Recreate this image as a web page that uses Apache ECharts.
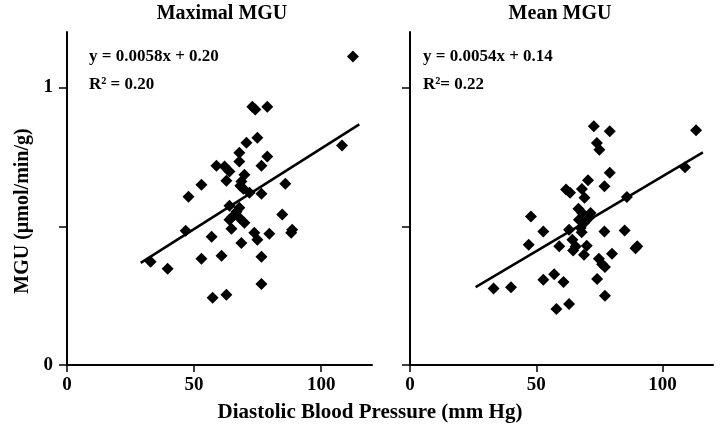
<!DOCTYPE html>
<html><head><meta charset="utf-8">
<script src="https://cdn.jsdelivr.net/npm/echarts@6/dist/echarts.min.js"></script>
<style>html,body{margin:0;padding:0;background:#fff}#c{width:721px;height:433px}</style>
</head><body><div id="c"></div>
<script>
const panelTitles = ['Maximal MGU', 'Mean MGU'];
const xAxisTitle = 'Diastolic Blood Pressure (mm Hg)';
const yAxisTitle = 'MGU (µmol/min/g)';
const xTicks = [0, 50, 100];
const yTicks = [0, 0.5, 1];
const yLabelTicks = [0, 1];

// Maximal MGU panel
const maxX = [112.5,72.9,74.1,78.8,74.9,70.6,108.2,67.8,78.8,67.8,76.5,58.8,62.0,63.9,69.8,62.7,68.6,52.9,85.9,68.2,69.4,71.8,76.5,47.8,63.9,67.8,66.7,65.1,63.9,67.8,84.7,69.8,46.7,64.7,73.7,74.9,79.6,88.6,88.2,56.9,68.6,32.9,39.6,52.9,60.8,76.5,76.5,57.3,62.7];
const maxY = [1.112,0.931,0.921,0.931,0.819,0.801,0.791,0.765,0.751,0.733,0.718,0.718,0.715,0.697,0.686,0.664,0.661,0.650,0.653,0.646,0.635,0.621,0.617,0.606,0.574,0.567,0.552,0.534,0.523,0.531,0.542,0.513,0.484,0.491,0.477,0.451,0.473,0.487,0.477,0.462,0.440,0.372,0.347,0.383,0.394,0.390,0.292,0.242,0.253];
const maxFit = [0.0058, 0.20];        // slope, intercept
const maxFitRange = [29, 115];
const maxEquation = 'y = 0.0058x + 0.20';
const maxR2 = 'R² = 0.20';

// Mean MGU panel
const meanX = [113.3,72.8,79.1,74.0,75.0,108.9,79.1,70.5,77.0,61.8,63.4,68.1,69.1,85.9,66.7,68.2,71.5,47.9,66.9,68.9,67.6,52.8,63.0,68.0,77.0,85.0,47.0,59.1,64.3,65.6,64.6,70.0,68.9,80.0,89.3,90.0,74.8,76.1,77.2,33.1,40.0,52.8,57.1,60.8,74.1,77.2,58.0,63.0,70.9];
const meanY = [0.846,0.860,0.842,0.800,0.776,0.713,0.693,0.666,0.644,0.632,0.621,0.634,0.603,0.605,0.563,0.548,0.548,0.535,0.523,0.512,0.494,0.481,0.487,0.478,0.481,0.485,0.433,0.428,0.451,0.427,0.413,0.430,0.397,0.401,0.421,0.428,0.383,0.363,0.353,0.276,0.280,0.307,0.327,0.299,0.310,0.250,0.202,0.220,0.531];
const meanFit = [0.0054, 0.14];
const meanFitRange = [26, 116];
const meanEquation = 'y = 0.0054x + 0.14';
const meanR2 = 'R²= 0.22';

const FONT = '"Liberation Serif", "Times New Roman", serif';
const INK = '#000';

function zip(a, b) { return a.map((v, i) => [v, b[i]]); }
function fitLine(fit, range) { return range.map(x => [x, fit[0] * x + fit[1]]); }

function xAx(gi) {
  return {
    type: 'value', gridIndex: gi, min: 0, max: 120,
    axisLine: { show: true, lineStyle: { color: INK, width: 2 } },
    axisTick: { show: true, length: 7, customValues: xTicks, lineStyle: { color: INK, width: 1.5 } },
    axisLabel: { customValues: xTicks, margin: 11, fontFamily: FONT, fontWeight: 'bold', fontSize: 19, color: INK },
    splitLine: { show: false }
  };
}
function yAx(gi, showLabels) {
  return {
    type: 'value', gridIndex: gi, min: 0, max: 1.2,
    axisLine: { show: true, onZero: false, lineStyle: { color: INK, width: 2 } },
    axisTick: { show: true, length: 8, customValues: yTicks, lineStyle: { color: INK, width: 1.5 } },
    axisLabel: { show: showLabels, customValues: yLabelTicks, margin: 14, fontFamily: FONT, fontWeight: 'bold', fontSize: 19, color: INK },
    splitLine: { show: false }
  };
}
function txt(x, y, s, size, align) {
  return { type: 'text', x: x, y: y, style: { text: s, fill: INK, font: 'bold ' + size + 'px ' + FONT, textAlign: align || 'left', textVerticalAlign: 'middle' } };
}

const chart = echarts.init(document.getElementById('c'), null, { renderer: 'canvas' });
const dot = { color: INK, opacity: 1 };
chart.setOption({
  backgroundColor: '#fff',
  animation: false,
  grid: [
    { left: 67, right: 349, top: 32, bottom: 68 },
    { left: 410, right: 8, top: 32, bottom: 68 }
  ],
  xAxis: [xAx(0), xAx(1)],
  yAxis: [yAx(0, true), yAx(1, false)],
  series: [
    { type: 'scatter', xAxisIndex: 0, yAxisIndex: 0, data: zip(maxX, maxY), symbol: 'diamond', symbolSize: 12, itemStyle: dot, clip: false },
    { type: 'line', xAxisIndex: 0, yAxisIndex: 0, data: fitLine(maxFit, maxFitRange), showSymbol: false, symbol: 'none', lineStyle: { color: INK, width: 2.5 } },
    { type: 'scatter', xAxisIndex: 1, yAxisIndex: 1, data: zip(meanX, meanY), symbol: 'diamond', symbolSize: 12, itemStyle: dot, clip: false },
    { type: 'line', xAxisIndex: 1, yAxisIndex: 1, data: fitLine(meanFit, meanFitRange), showSymbol: false, symbol: 'none', lineStyle: { color: INK, width: 2.5 } }
  ],
  graphic: [
    txt(222, 14, panelTitles[0], 20, 'center'),
    txt(560, 14, panelTitles[1], 20, 'center'),
    txt(89, 57, maxEquation, 17),
    txt(89, 85, maxR2, 17),
    txt(423, 57, meanEquation, 17),
    txt(423, 85, meanR2, 17),
    txt(370, 413, xAxisTitle, 21, 'center'),
    Object.assign(txt(23, 211, yAxisTitle, 20, 'center'), { rotation: Math.PI / 2 })
  ]
});
</script>
</body></html>
